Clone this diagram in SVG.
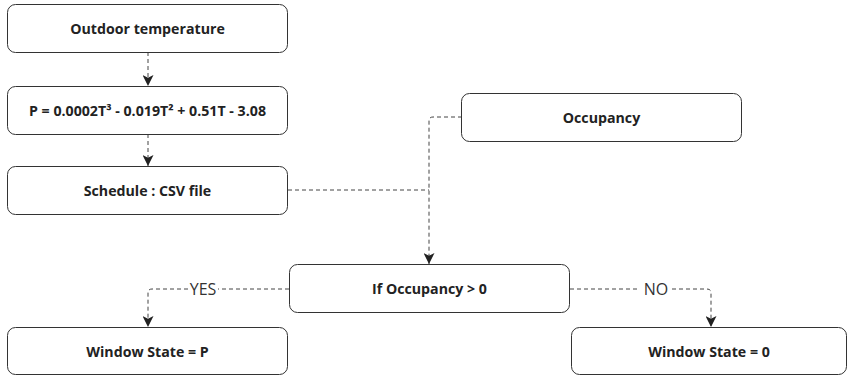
<svg xmlns="http://www.w3.org/2000/svg" width="848" height="377" viewBox="0 0 848 377">
<style>
.box{fill:#fff;stroke:#333;stroke-width:1}
.t{font-family:"Open Sans","Noto Sans",sans-serif;font-weight:bold;font-size:14.2px;fill:#222;text-anchor:middle;dominant-baseline:central}
.lbl{font-family:"Open Sans","Noto Sans",sans-serif;font-size:16px;fill:#333;text-anchor:middle;dominant-baseline:central}
.c{fill:none;stroke:#444;stroke-width:1;stroke-dasharray:4 3}
</style>
<defs>
<marker id="ah" viewBox="0 0 10 10" refX="10" refY="5" markerWidth="11" markerHeight="11" markerUnits="userSpaceOnUse" orient="auto">
<path d="M0,0 L10,5 L0,10 L2.5,5 Z" fill="#222"/>
</marker>
</defs>
<rect width="848" height="377" fill="#fff"/>
<g id="connectors">
<path class="c" d="M148,52 V86" marker-end="url(#ah)"/>
<path class="c" d="M148,134 V166" marker-end="url(#ah)"/>
<path class="c" d="M462,117 H433 Q429,117 429,121 V264" marker-end="url(#ah)"/>
<path class="c" d="M288,190 H429"/>
<path class="c" d="M289,289 H218 M188,289 H152 Q148,289 148,293 V327" marker-end="url(#ah)"/>
<path class="c" d="M570,289 H640 M672,289 H707 Q711,289 711,293 V327" marker-end="url(#ah)"/>
<text class="lbl" x="203" y="289">YES</text>
<text class="lbl" x="656" y="289">NO</text>
</g>
<g id="outdoor"><rect class="box" x="7.5" y="4.5" width="280" height="48" rx="8"/><text class="t" x="147.5" y="28.5">Outdoor temperature</text></g>
<g id="formula"><rect class="box" x="7.5" y="86.5" width="280" height="48" rx="8"/><text class="t" x="147.5" y="110.5">P = 0.0002T³ - 0.019T² + 0.51T - 3.08</text></g>
<g id="schedule"><rect class="box" x="7.5" y="166.5" width="280" height="48" rx="8"/><text class="t" x="147.5" y="190.5">Schedule : CSV file</text></g>
<g id="occupancy"><rect class="box" x="461.5" y="93.5" width="280" height="48" rx="8"/><text class="t" x="601.5" y="117.5">Occupancy</text></g>
<g id="ifocc"><rect class="box" x="289.5" y="264.5" width="280" height="48" rx="8"/><text class="t" x="429.5" y="288.5">If Occupancy &gt; 0</text></g>
<g id="wsp"><rect class="box" x="7.5" y="327.5" width="280" height="47" rx="8"/><text class="t" x="147.5" y="351">Window State = P</text></g>
<g id="ws0"><rect class="box" x="571.5" y="327.5" width="275" height="47" rx="8"/><text class="t" x="709" y="351">Window State = 0</text></g>
</svg>
